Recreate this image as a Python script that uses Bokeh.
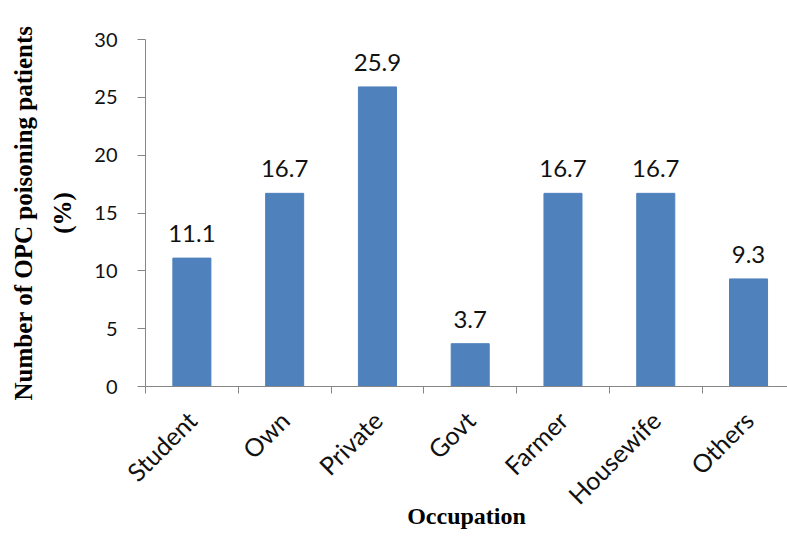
from math import pi

from bokeh.core.properties import value
from bokeh.embed import file_html
from bokeh.models import ColumnDataSource, FixedTicker, LabelSet, Range1d
from bokeh.plotting import figure
from bokeh.resources import INLINE

# Occupation of OPC poisoning patients (%)
categories = ["Student", "Own", "Private", "Govt", "Farmer", "Housewife", "Others"]
percent = [11.1, 16.7, 25.9, 3.7, 16.7, 16.7, 9.3]
y_ticks = [0, 5, 10, 15, 20, 25, 30]

n = len(categories)
centers = [i + 0.5 for i in range(n)]      # bar positions (category centres)
boundaries = list(range(n))                # tick marks between categories

src = ColumnDataSource(dict(
    x=centers,
    top=percent,
    label=[f"{v:.1f}" for v in percent],
))

SANS = "Lato"
SERIF = "Liberation Serif"
AXIS_GREY = "#868686"
BAR_BLUE = "#4F81BD"

p = figure(
    frame_width=642, frame_height=347,
    x_range=Range1d(0, n - 0.08), y_range=Range1d(0, 30),
    output_backend="svg", toolbar_location=None,
    min_border_left=145, min_border_top=39, min_border_right=0, min_border_bottom=0,
    background_fill_color="white", border_fill_color="white",
)
p.outline_line_color = None
p.xgrid.visible = False
p.ygrid.visible = False

p.vbar(x="x", top="top", width=0.41, source=src,
       fill_color=BAR_BLUE, line_color=BAR_BLUE)

labels = LabelSet(x="x", y="top", text="label", source=src,
                  text_align="center", text_baseline="alphabetic", y_offset=16,
                  text_font=value(SANS), text_font_size="24px", text_color="#111111")
p.add_layout(labels)

# y axis
ya = p.yaxis[0]
ya.ticker = FixedTicker(ticks=y_ticks)
ya.axis_line_color = AXIS_GREY
ya.major_tick_line_color = AXIS_GREY
ya.major_tick_out = 8
ya.major_tick_in = 0
ya.minor_tick_line_color = None
ya.major_label_standoff = 20
ya.major_label_text_font = SANS
ya.major_label_text_font_size = "20px"
ya.major_label_text_color = "#111111"
ya.axis_label = "Number of OPC poisoning patients\n(%)"
ya.axis_label_text_font = SERIF
ya.axis_label_text_font_style = "bold"
ya.axis_label_text_font_size = "25px"
ya.axis_label_text_color = "black"
ya.axis_label_standoff = 15
ya.axis_label_text_line_height = 1.45

# x axis: names at category centres, tick marks between categories
xa = p.xaxis[0]
xa.ticker = FixedTicker(ticks=centers, minor_ticks=boundaries)
xa.major_label_overrides = {c: name for c, name in zip(centers, categories)}
xa.axis_line_color = AXIS_GREY
xa.major_tick_line_color = None
xa.major_tick_out = 0
xa.major_tick_in = 0
xa.minor_tick_line_color = AXIS_GREY
xa.minor_tick_out = 7
xa.minor_tick_in = 0
xa.major_label_orientation = pi / 4
xa.major_label_standoff = 22
xa.major_label_text_font = SANS
xa.major_label_text_font_size = "25px"
xa.major_label_text_color = "#111111"
xa.axis_label = "Occupation"
xa.axis_label_text_font = SERIF
xa.axis_label_text_font_style = "bold"
xa.axis_label_text_font_size = "24px"
xa.axis_label_text_color = "black"
xa.axis_label_standoff = -20

open("out.html", "w").write(file_html(p, INLINE))
